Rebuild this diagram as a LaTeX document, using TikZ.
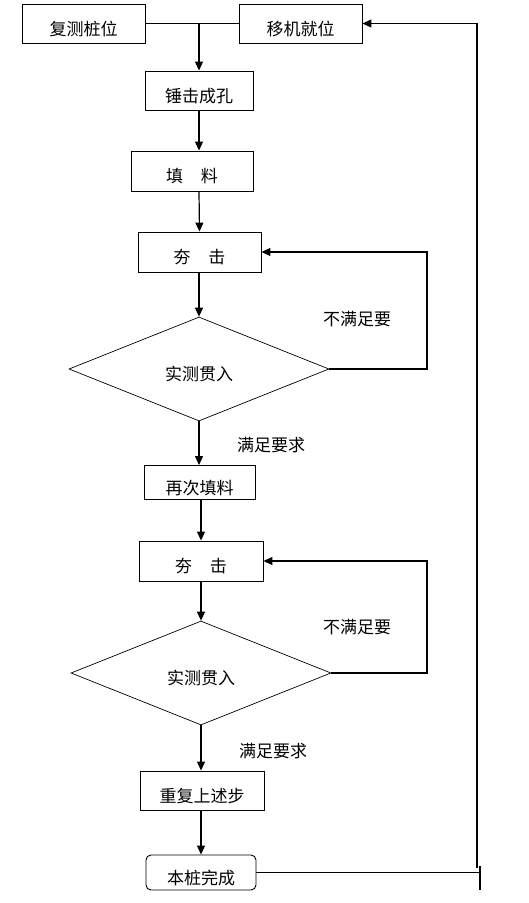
\documentclass[tikz,border=0pt]{standalone}
\usepackage{fontspec}
\usepackage{tikz}
\usetikzlibrary{arrows.meta,shapes.geometric}
\newfontfamily\cjk{Noto Sans CJK SC}

\begin{document}
\begin{tikzpicture}[x=1pt,y=-1pt,
	font=\cjk\fontsize{17pt}{20pt}\selectfont,
	box/.style={draw, line width=0.9pt, inner sep=0pt, text height=23pt, text depth=0pt},
	panduan/.style={draw, shape=diamond, aspect=2.5, line width=0.7pt, minimum width=260pt, minimum height=104pt, inner sep=0pt, text height=23pt, text depth=0pt},
	jt/.style={line width=1.2pt, -{Triangle[length=9pt,width=8pt]}},
	xian/.style={line width=1.2pt}]
	\useasboundingbox (0,0) rectangle (529,903);
	\node[box, minimum width=123pt, minimum height=39pt] (fuce) at (83.5,23.5) {复测桩位};
	\node[box, minimum width=123pt, minimum height=39pt] (yiji) at (300.5,23.5) {移机就位};
	\node[box, minimum width=108pt, minimum height=39pt] (kong) at (199,90.5) {锤击成孔};
	\node[box, minimum width=122pt, minimum height=40pt] (tian) at (192,171) {填\hspace{1.05em}料};
	\node[box, minimum width=123pt, minimum height=40pt] (hang1) at (199.5,252) {夯\hspace{1.05em}击};
	\node[panduan] (pd1) at (199,369) {实测贯入};
	\node[box, minimum width=111pt, minimum height=34pt] (zaici) at (199.5,482.5) {再次填料};
	\node[box, minimum width=124pt, minimum height=40pt] (hang2) at (201,561) {夯\hspace{1.05em}击};
	\node[panduan] (pd2) at (201,673) {实测贯入};
	\node[box, minimum width=124pt, minimum height=39pt] (chongfu) at (202,790.5) {重复上述步};
	\node[box, rounded corners=5pt, minimum width=110pt, minimum height=35pt] (wancheng) at (201,872.5) {本桩完成};
	\node (bu1) at (357,319) {不满足要};
	\node (man1) at (271,445) {满足要求};
	\node (bu2) at (357,627) {不满足要};
	\node (man2) at (273,751) {满足要求};
	\coordinate (r1) at (427,0);
	\coordinate (r0) at (477,868);
	\coordinate (duan1) at (480,866);
	\coordinate (duan2) at (480,890);
	\draw[xian] (fuce.east) -- (yiji.west);
	\draw[jt] (fuce.east -| kong.north) -- (kong.north);
	\draw[jt] (kong.south) -- (kong.south |- tian.north);
	\draw[jt] (kong.south |- tian.south) -- (hang1.north);
	\draw[jt] (hang1.south) -- (hang1.south -| pd1.north) -- (pd1.north);
	\draw[jt] (pd1.south) -- (pd1.south |- zaici.north);
	\draw[jt] (zaici.south -| hang2.north) -- (hang2.north);
	\draw[jt] (hang2.south) -- (pd2.north);
	\draw[jt] (pd2.south) -- (pd2.south |- chongfu.north);
	\draw[jt] (chongfu.south -| wancheng.north) -- (wancheng.north);
	\draw[jt] (pd1.east) -- (pd1.east -| r1) |- (hang1.east);
	\draw[jt] (pd2.east) -- (pd2.east -| r1) |- (hang2.east);
	\draw[xian] (wancheng.east) -- (wancheng.east -| duan1);
	\draw[line width=2pt] (duan1) -- (duan2);
	\draw[jt] (r0) |- (yiji.east);
\end{tikzpicture}
\end{document}
